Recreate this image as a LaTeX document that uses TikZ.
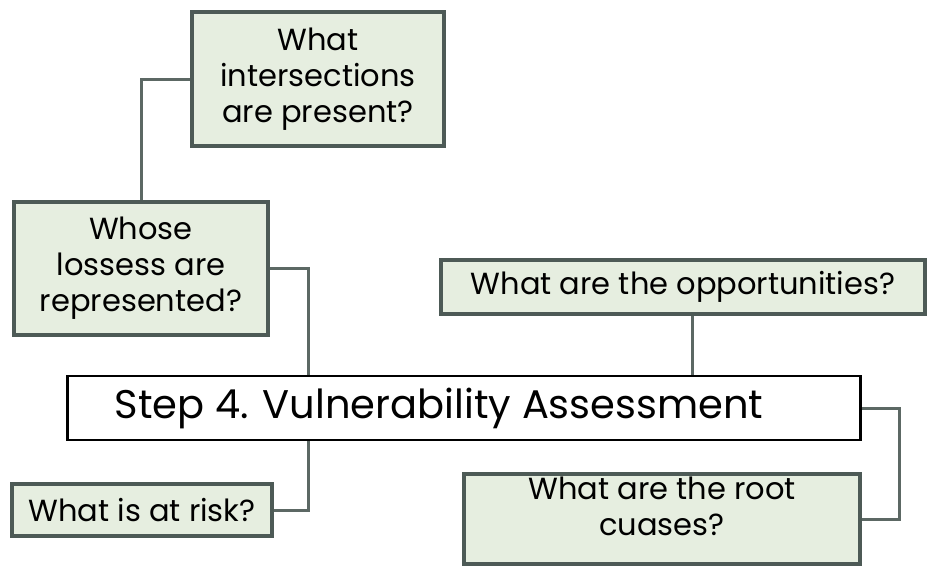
\documentclass[tikz,border=0pt]{standalone}
\usepackage{fontspec}
\setmainfont{Poppins}
\usetikzlibrary{positioning}
\definecolor{qborder}{RGB}{77,90,86}
\definecolor{qfill}{RGB}{230,238,224}
\definecolor{qline}{RGB}{92,104,100}
\tikzset{
  qbox/.style={draw=qborder,fill=qfill,line width=4pt,align=center,inner sep=0pt,
    font=\fontsize{30.5}{36}\selectfont},
  mainbox/.style={draw=black,fill=white,line width=2.5pt,inner sep=0pt,
    font=\fontsize{40}{46}\selectfont},
  qlink/.style={draw=qline,line width=3pt},
}
\begin{document}
\begin{tikzpicture}[x=1pt,y=-1pt]
  \useasboundingbox (0,0) rectangle (928,570);
  % question boxes
  \node[qbox,minimum width=252pt,minimum height=134pt] (inter) at (318,79)
    {What\\intersections\\are present?};
  \node[qbox,minimum width=254pt,minimum height=133pt] (whose) at (141,268)
    {Whose\\lossess are\\represented?};
  \node[qbox,minimum width=484pt,minimum height=54pt] (opport) at (683,287)
    {What are the opportunities?};
  \node[qbox,minimum width=260pt,minimum height=52pt] (risk) at (142,510)
    {What is at risk?};
  \node[qbox,minimum width=396pt,minimum height=90pt,text depth=26pt] (root) at (662,519)
    {What are the root\\cuases?};
  % central step
  \node[mainbox,minimum width=793pt,minimum height=64pt] (main) at (464,408)
    {\hspace*{-50pt}Step 4. Vulnerability Assessment};
  % links
  \coordinate (jl) at (308,0);
  \coordinate (jr) at (692,0);
  \draw[qlink] (inter.west) -| (whose.north);
  \draw[qlink] (whose.east) -| (jl |- main.north);
  \draw[qlink] (opport.south -| jr) -- (jr |- main.north);
  \draw[qlink] (main.south -| jl) |- (risk.east);
  \draw[qlink] (main.east) -- ++(38,0) |- (root.east);
\end{tikzpicture}
\end{document}
